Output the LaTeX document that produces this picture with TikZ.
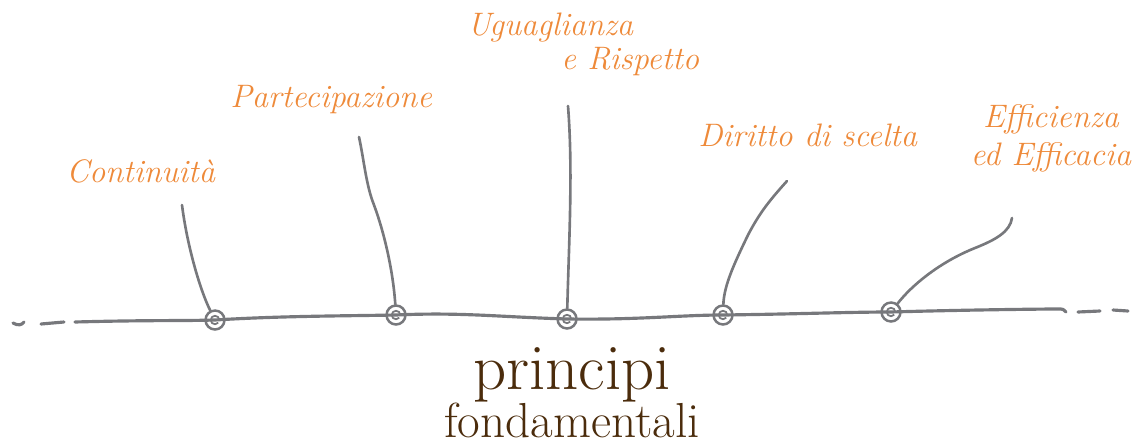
\documentclass[tikz,border=0pt]{standalone}
\usepackage{tikz}
\usetikzlibrary{positioning}
\definecolor{linegray}{RGB}{119,120,124}
\definecolor{labelorange}{RGB}{238,138,58}
\definecolor{titlebrown}{RGB}{75,44,12}
\begin{document}
\begin{tikzpicture}[x=0.02cm,y=-0.02cm]
        \tikzset{
            mainline/.style={linegray, line width=1.8pt, line cap=round},
            stem/.style={linegray, line width=1.5pt, line cap=round},
            knot/.style={circle, draw=linegray, line width=1.4pt, minimum size=0.38cm, inner sep=0pt,
                path picture={\draw[linegray, line width=1pt]
                    ([xshift=0.085cm]path picture bounding box.center)
                    arc[start angle=0, end angle=320, radius=0.085cm];}},
            principio/.style={text=labelorange, font=\fontsize{18.5}{22}\selectfont\itshape, inner sep=0pt},
            titolo/.style={text=titlebrown, inner sep=0pt}
        }
        \useasboundingbox (0,0) rectangle (1132,446);
        % knots on the line
        \node[knot] (k1) at (215,320) {};
        \node[knot] (k2) at (396,315) {};
        \node[knot] (k3) at (567,319) {};
        \node[knot] (k4) at (723,315) {};
        \node[knot] (k5) at (891,312) {};
        % labels
        \node[principio, anchor=base west] (cont) at (66,182) {Continuit\`a};
        \node[principio, anchor=base west] (part) at (230,108) {Partecipazione};
        \node[principio, anchor=base west] (ugu1) at (467,36) {Uguaglianza};
        \node[principio, anchor=base west] (ugu2) at (561,70) {e Rispetto};
        \node[principio, anchor=base west] (dir) at (698,146) {Diritto di scelta};
        \node[principio, anchor=base] (eff1) at (1051,128) {Efficienza};
        \node[principio, anchor=base] (eff2) at (1051,165) {ed Efficacia};
        % title
        \node[titolo, anchor=base, font=\fontsize{37}{40}\selectfont] (tit1) at (572,389) {principi};
        \node[titolo, anchor=base, font=\fontsize{28}{32}\selectfont] (tit2) at (572,437) {fondamentali};
        % stems
        \coordinate (s1) at (182,205);
        \coordinate (s2) at (359,137);
        \coordinate (s3) at (568,106);
        \coordinate (s4) at (787,181);
        \coordinate (s5) at (1012,218);
        \draw[stem] (s1) .. controls (187,245) and (200,290) .. (k1);
        \draw[stem] (s2) .. controls (364,160) and (366,185) .. (374,205) .. controls (384,232) and (393,270) .. (k2);
        \draw[stem] (s3) .. controls (573,170) and (569,240) .. (k3);
        \draw[stem] (s4) .. controls (770,200) and (760,212) .. (748,235) .. controls (735,262) and (724,285) .. (k4);
        \draw[stem] (s5) .. controls (1010,232) and (995,240) .. (975,248) .. controls (940,262) and (912,285) .. (k5);
        % the line
        \coordinate (l0) at (75,322);
        \coordinate (r0) at (1058,309);
        \draw[mainline] (l0) .. controls (150,320) and (180,321) .. (k1.center)
            .. controls (280,316) and (340,316) .. (k2.center)
            .. controls (460,312) and (500,317) .. (k3.center)
            .. controls (640,320) and (680,315) .. (k4.center)
            .. controls (800,314) and (850,312) .. (k5.center)
            .. controls (960,310) and (1040,309) .. (r0)
            .. controls (1063,309) .. (1066,312);
        \draw[mainline] (13,323) .. controls (18,326) and (22,325) .. (24,322);
        \draw[mainline] (41,324) -- (64,322);
        \draw[mainline] (1078,312) -- (1100,311);
        \draw[mainline] (1113,310) -- (1128,311);
\end{tikzpicture}
\end{document}
